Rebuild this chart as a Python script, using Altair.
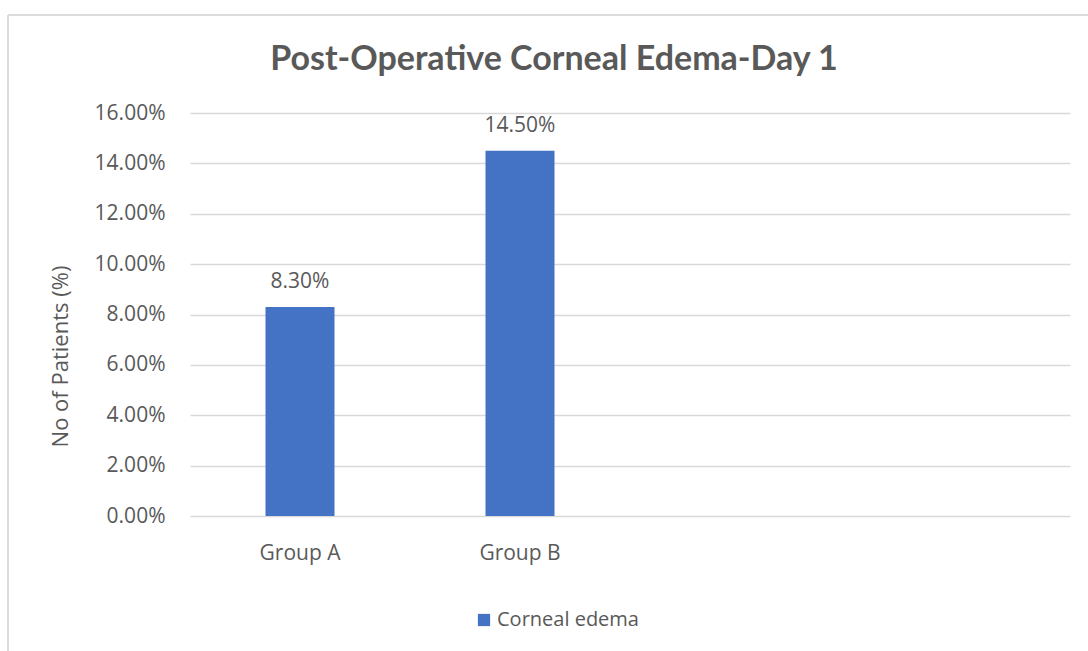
import altair as alt
import pandas as pd

# ---- data ----
categories = ["Group A", "Group B"]
slots = ["Group A", "Group B", " ", "  "]          # Excel axis keeps two empty category slots
values = [0.083, 0.145]                            # Corneal edema share of patients
series_name = "Corneal edema"
y_ticks = [0, 0.02, 0.04, 0.06, 0.08, 0.10, 0.12, 0.14, 0.16]
title_text = "Post-Operative Corneal Edema-Day 1"
y_title = "No of Patients (%)"

df = pd.DataFrame({"group": categories, "value": values, "series": [series_name] * len(categories)})
title_df = pd.DataFrame({"t": [title_text]})

TXT = "#595959"
GRID = "#D9D9D9"
BAR = "#4472C4"
FONT = "Open Sans"
FS = 21

PAD_L, PAD_T, W, H = 190, 113, 880, 403

xscale = alt.Scale(domain=slots, paddingInner=0.686, paddingOuter=0.343)

x_enc = alt.X(
    "group:N",
    scale=xscale,
    axis=alt.Axis(
        title=None, labelAngle=0, domain=False, ticks=False, grid=False, labelPadding=26,
        labelFontSize=FS, labelColor=TXT, labelFont=FONT,
    ),
)
y_enc = alt.Y(
    "value:Q",
    scale=alt.Scale(domain=[0, 0.16], nice=False),
    axis=alt.Axis(
        values=y_ticks, format=".2%", domain=False, ticks=False, labelPadding=25,
        labelFontSize=FS, labelColor=TXT, labelFont=FONT,
        gridColor=GRID, gridWidth=1.5,
        title=y_title, titleFont=FONT, titleFontSize=22, titleFontWeight="normal",
        titleColor=TXT, titleX=-130, titleY=243, titleAlign="center",
        titleBaseline="middle", titleAngle=270,
    ),
)

bars = alt.Chart(df).mark_bar(size=69).encode(
    x=x_enc,
    y=y_enc,
    color=alt.Color(
        "series:N",
        scale=alt.Scale(range=[BAR]),
        legend=alt.Legend(
            title=None, orient="none", legendX=284, legendY=497,
            symbolType="square", symbolSize=150, symbolStrokeWidth=0,
            symbolFillColor=BAR, labelFontSize=20, labelColor=TXT, labelFont=FONT,
            labelOffset=3,
        ),
    ),
)

labels = alt.Chart(df).mark_text(
    baseline="alphabetic", dy=-19, fontSize=FS, color=TXT, font=FONT
).encode(
    x=alt.X("group:N", scale=xscale),
    y="value:Q",
    text=alt.Text("value:Q", format=".2%"),
)

title_mark = alt.Chart(title_df).mark_text(
    font="Lato", fontSize=34, fontWeight="bold", color=TXT,
    align="center", baseline="alphabetic",
).encode(x=alt.value(554 - PAD_L), y=alt.value(70 - PAD_T), text="t:N")

border_top = alt.Chart(df).mark_rule(color=GRID, strokeWidth=1.5).encode(
    x=alt.value(8 - PAD_L), x2=alt.value(1200 - PAD_L), y=alt.value(15 - PAD_T)
)
border_left = alt.Chart(df).mark_rule(color=GRID, strokeWidth=1.5).encode(
    x=alt.value(8 - PAD_L), y=alt.value(15 - PAD_T), y2=alt.value(800 - PAD_T)
)

chart = alt.layer(border_top, border_left, bars, labels, title_mark).properties(
    width=W,
    height=H,
    background="white",
    autosize=alt.AutoSizeParams(type="none"),
    padding={"left": PAD_L, "top": PAD_T, "right": 1088 - PAD_L - W, "bottom": 651 - PAD_T - H},
).configure_view(stroke="transparent", strokeWidth=0)

chart.save("out.html", embed_options={"renderer": "svg", "actions": False})
